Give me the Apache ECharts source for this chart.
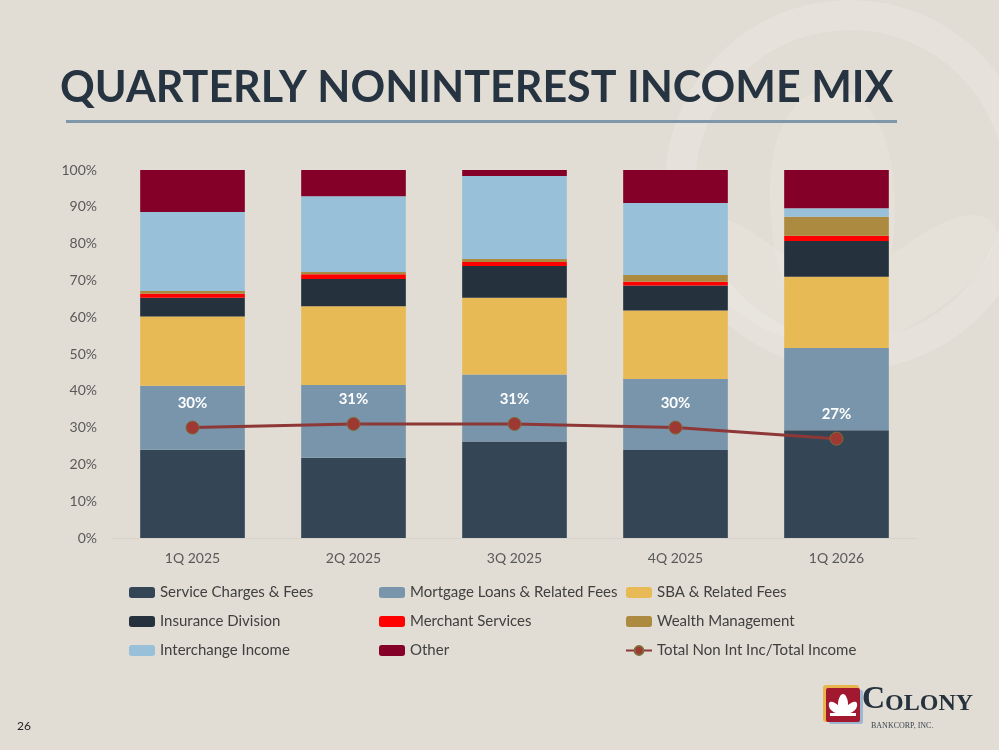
<!DOCTYPE html>
<html>
<head>
<meta charset="utf-8">
<title>Quarterly Noninterest Income Mix</title>
<script src="https://cdn.jsdelivr.net/npm/echarts@6/dist/echarts.min.js"></script>
<style>
  html, body { margin: 0; padding: 0; background: #e2ddd4; }
  #main { width: 999px; height: 750px; }
</style>
</head>
<body>
<div id="main"></div>
<script>
// quarters on the x axis
var quarters = ['1Q 2025', '2Q 2025', '3Q 2025', '4Q 2025', '1Q 2026'];
var yTicks = [0, 10, 20, 30, 40, 50, 60, 70, 80, 90, 100];

// share of noninterest income, in %
var serviceCharges = [24.0, 21.8, 26.2, 23.9, 29.3];
var mortgageLoans  = [17.4, 19.8, 18.2, 19.3, 22.3];
var sbaFees        = [18.8, 21.4, 20.9, 18.6, 19.4];
var insurance      = [5.1, 7.4, 8.6, 6.8, 9.7];
var merchant       = [1.1, 1.3, 1.1, 1.0, 1.4];
var wealth         = [0.7, 0.6, 0.8, 1.9, 5.2];
var interchange    = [21.5, 20.6, 22.6, 19.5, 2.3];
var other          = [11.4, 7.1, 1.6, 9.0, 10.4];
// total non int inc / total income
var nonIntRatio    = [30, 31, 31, 30, 27];

var chart = echarts.init(document.getElementById('main'));

var labelFont = 'Lato, "Open Sans", sans-serif';

function barSeries(name, data, color) {
  return {
    name: name,
    type: 'bar',
    stack: 'mix',
    barCategoryGap: '35%',
    data: data,
    itemStyle: { color: color },
    emphasis: { disabled: true }
  };
}

function legendCol(left, names) {
  return {
    orient: 'vertical',
    left: left,
    top: 580,
    itemGap: 14,
    itemWidth: 26,
    itemHeight: 11,
    selectedMode: false,
    data: names,
    textStyle: { color: '#404040', fontSize: 15, fontFamily: labelFont }
  };
}

var option = {
  backgroundColor: '#e2ddd4',
  animation: false,
  graphic: [
    // faint lotus watermark
    { type: 'ring', z: -1, shape: { cx: 850, cy: 185, r: 185, r0: 155 },
      style: { fill: 'rgba(255,255,255,0.14)' } },
    { type: 'polygon', z: -1, shape: { smooth: 0.6, points: [[835, 330], [770, 200], [830, 90], [895, 200]] },
      style: { fill: 'rgba(255,255,255,0.13)' } },
    { type: 'polygon', z: -1, shape: { smooth: 0.6, points: [[835, 335], [720, 300], [690, 220], [790, 260]] },
      style: { fill: 'rgba(255,255,255,0.11)' } },
    { type: 'polygon', z: -1, shape: { smooth: 0.6, points: [[840, 335], [950, 300], [990, 220], [885, 260]] },
      style: { fill: 'rgba(255,255,255,0.11)' } },
    // title
    { type: 'text', left: 60, top: 67,
      style: { text: 'QUARTERLY NONINTEREST INCOME MIX', fill: '#263340',
               font: 'bold 43px Lato, "Open Sans", sans-serif' } },
    { type: 'rect', shape: { x: 66, y: 120, width: 831, height: 3 },
      style: { fill: '#7f97aa' } },
    // page number
    { type: 'text', left: 17, top: 720,
      style: { text: '26', fill: '#222', font: '12px Lato, sans-serif' } },
    // logo
    { type: 'rect', shape: { x: 823, y: 685, width: 36, height: 37, r: 3 },
      style: { fill: '#e8b54d' } },
    { type: 'rect', shape: { x: 829, y: 690, width: 34, height: 34, r: 2 },
      style: { fill: '#9cb7cf' } },
    { type: 'rect', shape: { x: 826, y: 688, width: 34, height: 34, r: 2 },
      style: { fill: '#a2182e' } },
    { type: 'polygon', shape: { smooth: 0.5, points: [[843, 713], [838, 704], [843, 694], [848, 704]] },
      style: { fill: '#ffffff' } },
    { type: 'polygon', shape: { smooth: 0.5, points: [[843, 714], [831, 710], [830, 702], [839, 706]] },
      style: { fill: '#ffffff' } },
    { type: 'polygon', shape: { smooth: 0.5, points: [[843, 714], [855, 710], [856, 702], [847, 706]] },
      style: { fill: '#ffffff' } },
    { type: 'rect', shape: { x: 830, y: 713, width: 26, height: 3 },
      style: { fill: '#ffffff' } },
    { type: 'text', left: 862, top: 684,
      style: { text: '{c|C}{r|OLONY}', fill: '#26323d',
               rich: {
                 c: { fontSize: 32, fontWeight: 'bold', fontFamily: '"Liberation Serif", serif', color: '#26323d' },
                 r: { fontSize: 24, fontWeight: 'bold', fontFamily: '"Liberation Serif", serif', color: '#26323d', verticalAlign: 'bottom' }
               } } },
    { type: 'text', left: 871, top: 722,
      style: { text: 'BANKCORP, INC.', fill: '#3a4550',
               font: '8px "Liberation Serif", serif' } }
  ],
  legend: [
    legendCol(124, ['Service Charges & Fees', 'Insurance Division', 'Interchange Income']),
    legendCol(374, ['Mortgage Loans & Related Fees', 'Merchant Services', 'Other']),
    legendCol(620, ['SBA & Related Fees', 'Wealth Management', 'Total Non Int Inc/Total Income'])
  ],
  grid: { left: 112, right: 82, top: 170, bottom: 212 },
  xAxis: {
    type: 'category',
    data: quarters,
    axisLine: { lineStyle: { color: '#d8d3ca', width: 1 } },
    axisTick: { show: false },
    axisLabel: { color: '#595959', fontSize: 14, fontFamily: labelFont, margin: 13 }
  },
  yAxis: {
    type: 'value',
    min: yTicks[0],
    max: yTicks[yTicks.length - 1],
    interval: yTicks[1] - yTicks[0],
    splitLine: { show: false },
    axisLine: { show: false },
    axisTick: { show: false },
    axisLabel: { color: '#595959', fontSize: 14, fontFamily: labelFont, margin: 15,
                 formatter: '{value}%' }
  },
  series: [
    barSeries('Service Charges & Fees', serviceCharges, '#344556'),
    barSeries('Mortgage Loans & Related Fees', mortgageLoans, '#7895ab'),
    barSeries('SBA & Related Fees', sbaFees, '#e8ba56'),
    barSeries('Insurance Division', insurance, '#25313c'),
    barSeries('Merchant Services', merchant, '#ff0000'),
    barSeries('Wealth Management', wealth, '#ac8a40'),
    barSeries('Interchange Income', interchange, '#98c0d9'),
    barSeries('Other', other, '#840029'),
    {
      name: 'Total Non Int Inc/Total Income',
      type: 'line',
      data: nonIntRatio,
      z: 5,
      symbol: 'circle',
      symbolSize: 13,
      lineStyle: { color: '#8e3737', width: 3 },
      itemStyle: { color: '#9e3832', borderColor: '#7d6c3a', borderWidth: 1 },
      label: {
        show: true,
        position: 'top',
        distance: 10,
        color: '#ffffff',
        fontWeight: 'bold',
        fontSize: 15,
        fontFamily: labelFont,
        formatter: '{c}%'
      },
      emphasis: { disabled: true }
    }
  ]
};

chart.setOption(option);
</script>
</body>
</html>
